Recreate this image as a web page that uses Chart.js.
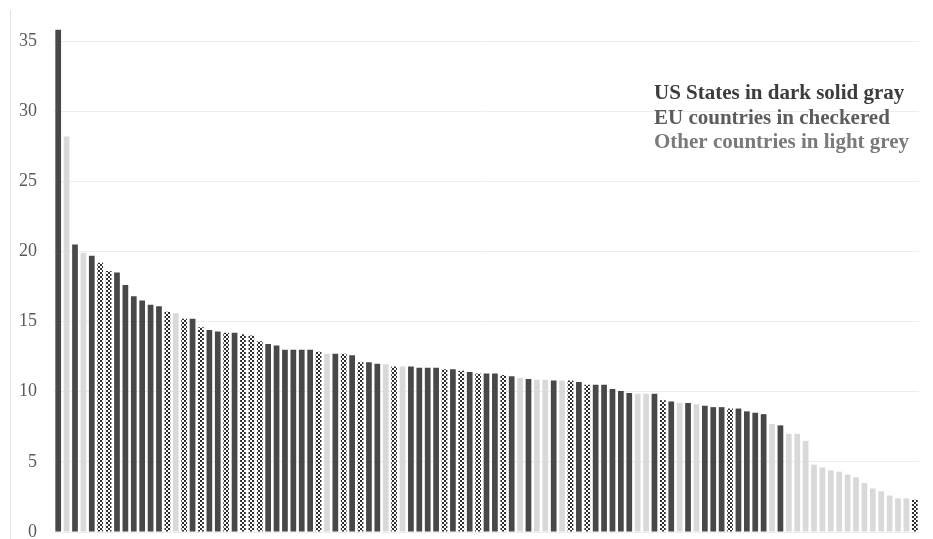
<!DOCTYPE html>
<html>
<head>
<meta charset="utf-8">
<script src="https://cdn.jsdelivr.net/npm/chart.js@4"></script>
<style>
    html, body { margin: 0; padding: 0; background: #ffffff; }
    #wrap { width: 933px; height: 539px; position: relative; }
</style>
</head>
<body>
<div id="wrap"><canvas id="rateChart" width="933" height="539"></canvas></div>
<script>
// bar values, sorted high to low
const values = [
    35.8, 28.2, 20.5, 19.9, 19.7, 19.2, 18.6, 18.5, 17.6, 16.8,
    16.5, 16.2, 16.1, 15.7, 15.6, 15.2, 15.2, 14.6, 14.4, 14.3,
    14.2, 14.2, 14.1, 14.0, 13.6, 13.4, 13.3, 13.0, 13.0, 13.0,
    13.0, 12.85, 12.7, 12.7, 12.7, 12.6, 12.1, 12.1, 12.0, 11.95,
    11.8, 11.8, 11.8, 11.7, 11.7, 11.7, 11.6, 11.6, 11.5, 11.4,
    11.3, 11.3, 11.3, 11.2, 11.1, 11.0, 10.9, 10.85, 10.85, 10.8,
    10.8, 10.8, 10.7, 10.5, 10.5, 10.5, 10.2, 10.05, 9.9, 9.85,
    9.85, 9.85, 9.4, 9.3, 9.2, 9.2, 9.1, 9.0, 8.9, 8.9,
    8.8, 8.8, 8.6, 8.5, 8.4, 7.7, 7.6, 7.0, 7.0, 6.5,
    4.8, 4.6, 4.4, 4.3, 4.1, 3.9, 3.5, 3.1, 2.9, 2.6,
    2.4, 2.4, 2.3
];

// group of each bar: US = US state, EU = EU country, OT = other country
const groups = [
    'US', 'OT', 'US', 'OT', 'US', 'EU', 'EU', 'US', 'US', 'US',
    'US', 'US', 'US', 'EU', 'OT', 'EU', 'US', 'EU', 'US', 'US',
    'EU', 'US', 'EU', 'EU', 'EU', 'US', 'US', 'US', 'US', 'US',
    'US', 'EU', 'OT', 'US', 'EU', 'US', 'EU', 'US', 'US', 'OT',
    'EU', 'OT', 'US', 'US', 'US', 'US', 'EU', 'US', 'EU', 'US',
    'EU', 'US', 'US', 'EU', 'US', 'OT', 'US', 'OT', 'OT', 'US',
    'OT', 'EU', 'US', 'EU', 'US', 'US', 'US', 'US', 'US', 'OT',
    'OT', 'US', 'EU', 'US', 'OT', 'US', 'OT', 'US', 'US', 'US',
    'EU', 'US', 'US', 'US', 'US', 'OT', 'US', 'OT', 'OT', 'OT',
    'OT', 'OT', 'OT', 'OT', 'OT', 'OT', 'OT', 'OT', 'OT', 'OT',
    'OT', 'OT', 'EU'
];

const categories = values.map((v, i) => String(i + 1));
const yTicks = [0, 5, 10, 15, 20, 25, 30, 35];
const noteLines = [
    'US States in dark solid gray',
    'EU countries in checkered',
    'Other countries in light grey'
];

// checkered fill for the EU bars
function makeChecker() {
    const tile = document.createElement('canvas');
    tile.width = 4;
    tile.height = 4;
    const t = tile.getContext('2d');
    t.fillStyle = '#ffffff';
    t.fillRect(0, 0, 4, 4);
    t.fillStyle = '#2e2e2e';
    t.fillRect(0, 0, 2, 2);
    t.fillRect(2, 2, 2, 2);
    return t.createPattern(tile, 'repeat');
}

const checker = makeChecker();
const fills = groups.map(g => g === 'US' ? '#484848' : (g === 'EU' ? checker : '#d9d9d9'));

// the notes in the upper right plus the thin frame line on the left
const notePlugin = {
    id: 'notePlugin',
    afterDraw(chart) {
        const { ctx } = chart;
        ctx.save();
        ctx.strokeStyle = '#e4e4e4';
        ctx.lineWidth = 1;
        ctx.beginPath();
        ctx.moveTo(10.5, 10);
        ctx.lineTo(10.5, 539);
        ctx.stroke();

        ctx.font = 'bold 21px "Liberation Serif", "Times New Roman", serif';
        ctx.textAlign = 'left';
        ctx.textBaseline = 'alphabetic';
        const colors = ['#3c3c3c', '#5c5c5c', '#7a7a7a'];
        noteLines.forEach((line, i) => {
            ctx.fillStyle = colors[i];
            ctx.fillText(line, 654, 99 + i * 24.5);
        });
        ctx.restore();
    }
};

new Chart(document.getElementById('rateChart').getContext('2d'), {
    type: 'bar',
    data: {
        labels: categories,
        datasets: [{
            data: values,
            backgroundColor: fills,
            borderWidth: 0,
            barPercentage: 0.68,
            categoryPercentage: 1.0,
            clip: false
        }]
    },
    options: {
        responsive: false,
        animation: false,
        events: [],
        layout: {
            padding: { left: 0, right: 14, top: 41, bottom: 7 }
        },
        plugins: {
            legend: { display: false },
            tooltip: { enabled: false }
        },
        scales: {
            x: {
                display: false
            },
            y: {
                min: 0,
                max: 35,
                afterBuildTicks(scale) {
                    scale.ticks = yTicks.map(v => ({ value: v }));
                },
                afterFit(scale) {
                    scale.width = 54;
                    scale.paddingTop = 0;
                    scale.paddingBottom = 0;
                },
                border: { display: false },
                grid: {
                    color: '#ededed',
                    lineWidth: 1,
                    drawTicks: false
                },
                ticks: {
                    padding: 17,
                    color: '#5a5a5a',
                    font: { family: '"Liberation Serif", "Times New Roman", serif', size: 18 }
                }
            }
        }
    },
    plugins: [notePlugin]
});
</script>
</body>
</html>
